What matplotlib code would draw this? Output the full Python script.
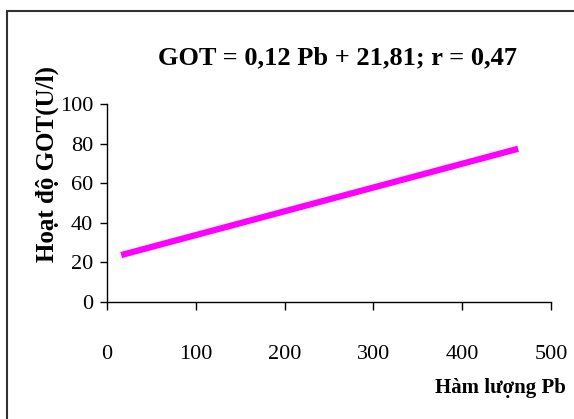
import matplotlib.pyplot as plt
from matplotlib.patches import Rectangle

# trend line
pb = [16, 463]
got = [23.7, 77.4]

x_ticks = [0, 100, 200, 300, 400, 500]
y_ticks = [0, 20, 40, 60, 80, 100]

title = "GOT = 0,12 Pb + 21,81; r = 0,47"
xlabel = "Hàm lượng Pb"
ylabel = "Hoạt độ GOT(U/l)"

plt.rcParams['font.family'] = ['Liberation Serif', 'DejaVu Serif']

W, H = 574, 419
fig = plt.figure(figsize=(W / 100, H / 100), dpi=100)
ax = fig.add_axes([107 / W, 1 - 302 / H, 444 / W, 198 / H])

ax.plot(pb, got, color='#FF00FF', linewidth=4.5, solid_capstyle='butt')

ax.set_xlim(0, 500)
ax.set_ylim(0, 100)
ax.set_xticks(x_ticks)
ax.set_yticks(y_ticks)
ax.spines['top'].set_visible(False)
ax.spines['right'].set_visible(False)
for s in ['left', 'bottom']:
    ax.spines[s].set_linewidth(1.0)
ax.tick_params(axis='x', direction='out', length=6, width=1, pad=25, labelsize=16)
ax.tick_params(axis='y', direction='out', length=5, width=1, pad=5, labelsize=16)

fig.text(337 / W, 1 - 58 / H, title, ha='center', va='center',
         fontsize=19, fontweight='bold')
fig.text(500 / W, 1 - 388 / H, xlabel, ha='center', va='center',
         fontsize=15, fontweight='bold')
fig.text(47 / W, 1 - 164 / H, ylabel, ha='center', va='center',
         rotation=90, fontsize=18, fontweight='bold')

# outer frame (cut at right and bottom)
fig.patches.append(Rectangle((7 / W, -0.05), 1.1, 1 - 11 / H + 0.05,
                             transform=fig.transFigure, fill=False,
                             edgecolor='#333333', linewidth=1.5))

fig.savefig('out.png', dpi=100)
